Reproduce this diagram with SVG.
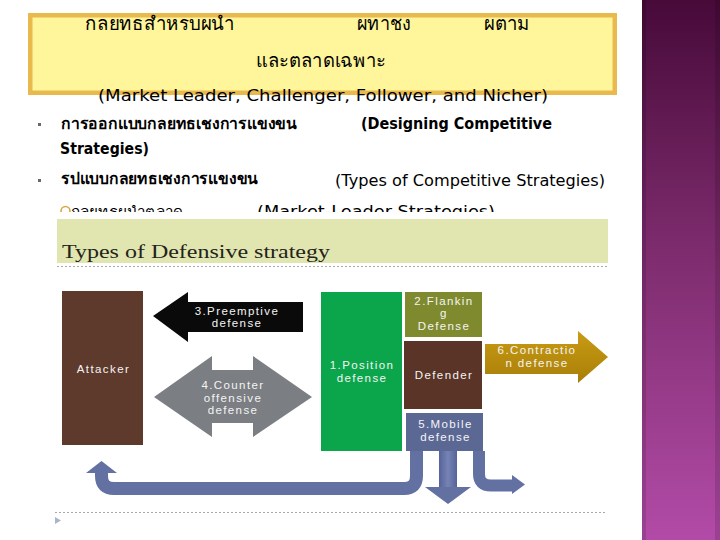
<svg xmlns="http://www.w3.org/2000/svg" width="720" height="540" viewBox="0 0 720 540">
<defs>
<linearGradient id="side" x1="0" y1="0" x2="0" y2="1">
<stop offset="0" stop-color="#470a39"/>
<stop offset="0.45" stop-color="#7c2b6c"/>
<stop offset="1" stop-color="#b24ba7"/>
</linearGradient>
<linearGradient id="blueArrow" x1="0" y1="0" x2="1" y2="0">
<stop offset="0" stop-color="#56639a"/>
<stop offset="0.5" stop-color="#7683b4"/>
<stop offset="1" stop-color="#56639a"/>
</linearGradient>
<linearGradient id="gold" x1="0" y1="0" x2="0" y2="1">
<stop offset="0" stop-color="#c99c14"/>
<stop offset="1" stop-color="#a87e08"/>
</linearGradient>
<style>
.th{font-family:"DejaVu Sans","Noto Sans",sans-serif;fill:#000}
.en{font-family:"DejaVu Sans","Noto Sans",sans-serif;fill:#000}
.b{font-weight:bold}
.lbl{font-family:"Liberation Sans",Arial,sans-serif;font-size:11.5px;fill:#f4f4f4;text-anchor:middle;letter-spacing:1.4px}
.dash{stroke:#a8a8a8;stroke-width:1;stroke-dasharray:2 2;fill:none}
</style>
</defs>
<rect x="0" y="0" width="720" height="540" fill="#ffffff"/>
<g id="sidebar">
<rect x="642" y="0" width="78" height="540" fill="url(#side)"/>
<rect x="642" y="0" width="4" height="540" fill="#000" opacity="0.12"/>
<rect x="715" y="0" width="5" height="540" fill="#000" opacity="0.12"/>
</g>
<g id="title">
<rect x="30.25" y="15.25" width="584.5" height="77.5" fill="#fff59a" stroke="#eab94e" stroke-width="4.5"/>
<text class="th" x="85" y="30" font-size="19" textLength="150" lengthAdjust="spacingAndGlyphs">กลยทธสำหรบผนำ</text>
<text class="th" x="357" y="30" font-size="19" textLength="54" lengthAdjust="spacingAndGlyphs">ผทาชง</text>
<text class="th" x="484" y="30" font-size="19" textLength="46" lengthAdjust="spacingAndGlyphs">ผตาม</text>
<text class="th" x="256" y="67" font-size="19" textLength="130" lengthAdjust="spacingAndGlyphs">และตลาดเฉพาะ</text>
<text class="en" x="98" y="101" font-size="16" textLength="450" lengthAdjust="spacingAndGlyphs">(Market Leader, Challenger, Follower, and Nicher)</text>
</g>
<g id="bullets">
<rect x="38" y="123" width="3" height="3" fill="#6f6470"/>
<text class="th b" x="61" y="129" font-size="16" textLength="236" lengthAdjust="spacingAndGlyphs">การออกแบบกลยทธเชงการแขงขน</text>
<text class="en b" x="361" y="129" font-size="15" textLength="191" lengthAdjust="spacingAndGlyphs">(Designing Competitive</text>
<text class="en b" x="60" y="154" font-size="15" textLength="89" lengthAdjust="spacingAndGlyphs">Strategies)</text>
<rect x="38" y="179" width="3" height="3" fill="#6f6470"/>
<text class="th b" x="61" y="184" font-size="16" textLength="197" lengthAdjust="spacingAndGlyphs">รปแบบกลยทธเชงการแขงขน</text>
<text class="en" x="335" y="186" font-size="16" textLength="270" lengthAdjust="spacingAndGlyphs">(Types of Competitive Strategies)</text>
<circle cx="65.5" cy="211" r="4.5" fill="none" stroke="#d7a845" stroke-width="1.6"/>
<text class="th" x="71" y="217" font-size="15" fill="#333" textLength="112" lengthAdjust="spacingAndGlyphs">กลยทธผนำตลาด</text>
<text class="en" x="257" y="217" font-size="16" textLength="238" lengthAdjust="spacingAndGlyphs">(Market-Leader Strategies)</text>
</g>
<g id="picture">
<rect x="55" y="212" width="555" height="318" fill="#ffffff"/>
<rect x="57" y="219" width="551" height="44" fill="#e1e6b0"/>
<text x="62" y="258" font-family="'Liberation Serif','Times New Roman',serif" font-size="19" fill="#23231c" textLength="268" lengthAdjust="spacingAndGlyphs">Types of Defensive strategy</text>
<line class="dash" x1="57" y1="266.5" x2="608" y2="266.5"/>
<line class="dash" x1="55" y1="512.5" x2="607" y2="512.5"/>
<polygon points="55,517 61,520.5 55,524" fill="#a9b6c8"/>
</g>
<g id="attacker">
<rect x="62" y="291" width="81" height="154" fill="#5d3a2c"/>
<text class="lbl" x="103.5" y="373">Attacker</text>
</g>
<g id="preemptive">
<polygon points="153,316 188,292 188,302 303,302 303,332 188,332 188,342" fill="#0a0a0a"/>
<text class="lbl" x="237" y="314.5">3.Preemptive</text>
<text class="lbl" x="237" y="327.2">defense</text>
</g>
<g id="counter">
<polygon points="154,397 212,356 212,370 253,370 253,356 312,397 253,437 253,423 212,423 212,437" fill="#7b7e82"/>
<text class="lbl" x="233" y="389">4.Counter</text>
<text class="lbl" x="233" y="401.7">offensive</text>
<text class="lbl" x="233" y="414.4">defense</text>
</g>
<g id="position">
<rect x="321" y="292" width="81" height="159" fill="#0ba64c"/>
<text class="lbl" x="362" y="369">1.Position</text>
<text class="lbl" x="362" y="381.7">defense</text>
</g>
<g id="flanking">
<rect x="405" y="292" width="77" height="45" fill="#7f8a2e"/>
<text class="lbl" x="444" y="304.5">2.Flankin</text>
<text class="lbl" x="444" y="317.2">g</text>
<text class="lbl" x="444" y="330">Defense</text>
</g>
<g id="defender">
<rect x="404" y="341" width="78" height="68" fill="#5a3427"/>
<text class="lbl" x="444" y="379">Defender</text>
</g>
<g id="mobile">
<rect x="406" y="413" width="77" height="38" fill="#5c6894"/>
<text class="lbl" x="445.5" y="428">5.Mobile</text>
<text class="lbl" x="445.5" y="440.7">defense</text>
</g>
<g id="contraction">
<polygon points="485,344 578,344 578,331 608,357 578,383 578,374 485,374" fill="url(#gold)"/>
<text class="lbl" x="537" y="354">6.Contractio</text>
<text class="lbl" x="537" y="366.7">n defense</text>
</g>
<g id="connectors">
<path d="M416.5 451 V476 Q416.5 488.5 404 488.5 H114 Q101.5 488.5 101.5 476 V472" fill="none" stroke="#6270a2" stroke-width="13"/>
<polygon points="86,473 101.5,461 117,473" fill="#6270a2"/>
<rect x="439" y="451" width="18" height="36" fill="url(#blueArrow)"/>
<polygon points="425,487 471,487 448,504" fill="#6270a2"/>
<path d="M479 451 V474 Q479 485.5 491 485.5 H513" fill="none" stroke="#6270a2" stroke-width="12"/>
<polygon points="512,475 525,484.5 512,494" fill="#6270a2"/>
</g>
</svg>
